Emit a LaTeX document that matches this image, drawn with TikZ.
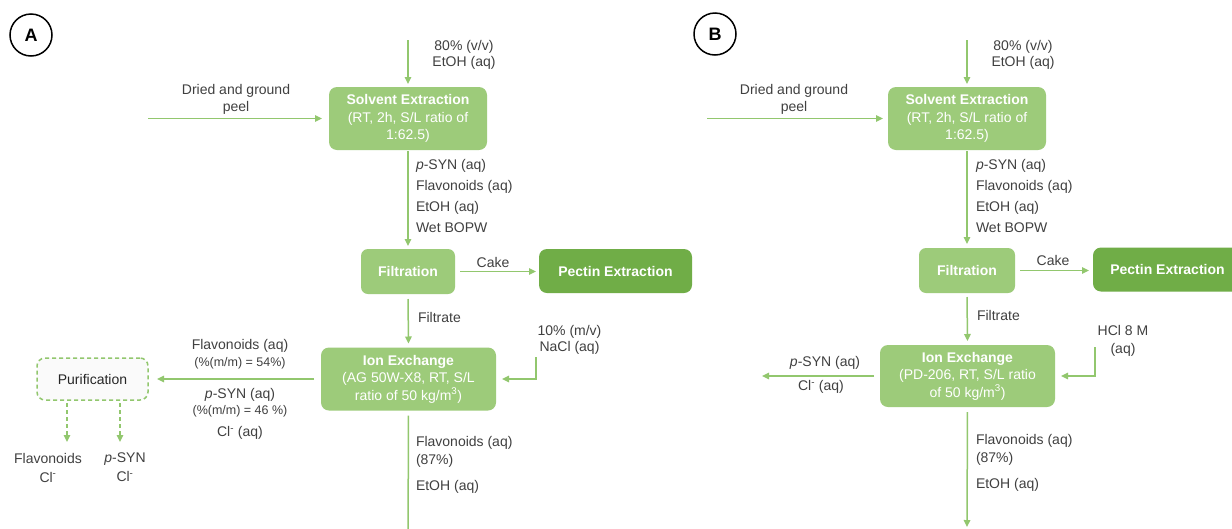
\documentclass[tikz,border=0pt]{standalone}
\usepackage{fontspec}
\setmainfont{Liberation Sans}
\usetikzlibrary{arrows.meta}
\definecolor{lgreen}{RGB}{157,203,122}
\definecolor{dgreen}{RGB}{112,173,71}
\definecolor{agreen}{RGB}{146,199,110}
\definecolor{txt}{RGB}{64,64,64}
\tikzset{
  every node/.style={inner sep=0pt, outer sep=0pt, text=txt},
  lbl/.style={font=\fontsize{14}{16}\selectfont},
  smalllbl/.style={font=\fontsize{12.5}{14}\selectfont},
  proc/.style={fill=lgreen, rounded corners=8pt, text=white, align=center,
    font=\fontsize{14}{17.5}\selectfont},
  darkproc/.style={fill=dgreen, rounded corners=8pt, text=white,
    font=\fontsize{14}{17}\selectfont\bfseries},
  flow/.style={draw=agreen, line width=1.5pt, -{Triangle[length=7pt,width=6.5pt]}},
  dflow/.style={draw=agreen, line width=1.5pt, dash pattern=on 4pt off 3pt,
    -{Triangle[length=7pt,width=6.5pt]}},
  plain/.style={draw=agreen, line width=1.5pt},
  panellabel/.style={draw=black, circle, line width=1.5pt, minimum size=42pt,
    text=black, font=\fontsize{18}{18}\selectfont\bfseries},
}
\begin{document}
\begin{tikzpicture}[x=1pt,y=-1pt]
\clip (0,0) rectangle (1232,528);
\fill[white] (0,0) rectangle (1232,528);

% ---------------- Panel A ----------------
\node[panellabel] (labA) at (31,35) {A};
\begin{scope}[name prefix=A-]
  \node[proc, minimum width=158pt, minimum height=63pt] (se) at (408,118.5)
    {\textbf{Solvent Extraction}\\(RT, 2h, S/L ratio of\\1:62.5)};
  \node[proc, minimum width=94pt, minimum height=45pt, font=\fontsize{14}{17}\selectfont\bfseries, rounded corners=7pt] (fi) at (408,271.5) {Filtration};
  \node[darkproc, minimum width=153pt, minimum height=44pt] (pe) at (615.5,271) {Pectin Extraction};
  \node[proc, minimum width=175pt, minimum height=63pt] (ie) at (408.5,379)
    {\textbf{Ion Exchange}\\(AG 50W-X8, RT, S/L\\ratio of 50 kg/m\textsuperscript{3})};
  \node[draw=agreen, line width=1.5pt, dash pattern=on 4pt off 3pt, rounded corners=8pt,
    fill=black!2, minimum width=111pt, minimum height=42pt, lbl, text=black!85] (pu) at (92.5,379) {Purification};

  \coordinate (etin) at (408,40);
  \coordinate (feed) at (148,118.5);
  \coordinate (salt) at (536,357);
  \coordinate (bot) at (408,545);
  \coordinate (d1) at (67,442);
  \coordinate (d2) at (120,442);

  \draw[flow, shorten >=3pt] (etin) -- (se.north);
  \draw[flow, shorten >=7pt] (feed) -- (se.west);
  \draw[flow, shorten <=1pt, shorten >=3pt] (se.south) -- (fi.north);
  \draw[flow, shorten <=5pt, shorten >=3pt] (fi.east) -- (fi.east -| pe.west);
  \draw[flow, shorten <=5pt, shorten >=4pt] (fi.south) -- (ie.north);
  \draw[flow, shorten >=6pt] (salt) |- (ie.east);
  \draw[flow, shorten <=7pt, shorten >=9pt] (ie.west) -- (pu.east);
  \draw[plain, shorten <=5pt] (ie.south) -- (bot);
  \draw[dflow, shorten <=3pt] (pu.south -| d1) -- (d1);
  \draw[dflow, shorten <=3pt] (pu.south -| d2) -- (d2);

  \node[lbl, align=center] (l80) at (464,55) {80\% (v/v)\\EtOH (aq)};
  \node[lbl, align=center, font=\fontsize{14}{17}\selectfont] (ldry) at (236,99.5) {Dried and ground\\peel};
  \node[lbl, align=left, anchor=west, font=\fontsize{14}{20.7}\selectfont] (lse) at (416,196)
    {\textit{p}-SYN (aq)\\Flavonoids (aq)\\EtOH (aq)\\Wet BOPW};
  \node[lbl] (lcake) at (493,262) {Cake};
  \node[lbl, anchor=west] (lfil) at (418,317) {Filtrate};
  \node[lbl, align=center] (lnacl) at (569.5,340) {10\% (m/v)\\NaCl (aq)};
  \node[lbl] (lf1) at (240,346) {Flavonoids (aq)};
  \node[smalllbl] (lf2) at (240,363) {(\%(m/m) = 54\%)};
  \node[lbl] (lp1) at (240,395) {\textit{p}-SYN (aq)};
  \node[smalllbl] (lp2) at (240,411) {(\%(m/m) = 46 \%)};
  \node[lbl] (lcl) at (240,433) {Cl\textsuperscript{-} (aq)};
  \node[lbl, align=left, anchor=west, font=\fontsize{14}{18}\selectfont] (lbot) at (416,465)
    {Flavonoids (aq)\\(87\%)\\[8pt]EtOH (aq)};
  \node[lbl, align=center, font=\fontsize{14}{19}\selectfont] (lo1) at (48,467.5) {Flavonoids\\Cl\textsuperscript{-}};
  \node[lbl, align=center, font=\fontsize{14}{19}\selectfont] (lo2) at (125,467.5) {\textit{p}-SYN\\Cl\textsuperscript{-}};
\end{scope}

% ---------------- Panel B ----------------
\node[panellabel] (labB) at (715,34) {B};
\begin{scope}[name prefix=B-, xshift=559pt]
  \node[proc, minimum width=158pt, minimum height=63pt] (se) at (408,118.5)
    {\textbf{Solvent Extraction}\\(RT, 2h, S/L ratio of\\1:62.5)};
  \node[proc, minimum width=96pt, minimum height=45pt, font=\fontsize{14}{17}\selectfont\bfseries, rounded corners=7pt] (fi) at (408,270.5) {Filtration};
  \node[darkproc, minimum width=149pt, minimum height=44pt] (pe) at (608.5,269.5) {Pectin Extraction};
  \node[proc, minimum width=175pt, minimum height=62pt] (ie) at (408.5,376)
    {\textbf{Ion Exchange}\\(PD-206, RT, S/L ratio\\of 50 kg/m\textsuperscript{3})};

  \coordinate (etin) at (408,40);
  \coordinate (feed) at (148,118.5);
  \coordinate (acid) at (536,347);
  \coordinate (out) at (203,376);
  \coordinate (bot) at (408,527);

  \draw[flow, shorten >=3pt] (etin) -- (se.north);
  \draw[flow, shorten >=5pt] (feed) -- (se.west);
  \draw[flow, shorten <=1pt, shorten >=4pt] (se.south) -- (fi.north);
  \draw[flow, shorten <=5pt, shorten >=4pt] (fi.east) -- (fi.east -| pe.west);
  \draw[flow, shorten <=4pt, shorten >=4pt] (fi.south) -- (ie.north);
  \draw[flow, shorten >=6pt] (acid) |- (ie.east);
  \draw[flow, shorten <=6pt] (ie.west) -- (out);
  \draw[flow, shorten <=5pt] (ie.south) -- (bot);

  \node[lbl, align=center] (l80) at (464,55) {80\% (v/v)\\EtOH (aq)};
  \node[lbl, align=center, font=\fontsize{14}{17}\selectfont] (ldry) at (235,99.5) {Dried and ground\\peel};
  \node[lbl, align=left, anchor=west, font=\fontsize{14}{20.7}\selectfont] (lse) at (417,196)
    {\textit{p}-SYN (aq)\\Flavonoids (aq)\\EtOH (aq)\\Wet BOPW};
  \node[lbl] (lcake) at (494,260) {Cake};
  \node[lbl, anchor=west] (lfil) at (418,315) {Filtrate};
  \node[lbl, align=center, font=\fontsize{14}{18}\selectfont] (lhcl) at (564,341) {HCl 8 M\\(aq)};
  \node[lbl] (lp1) at (266,363) {\textit{p}-SYN (aq)};
  \node[lbl] (lcl) at (262,387) {Cl\textsuperscript{-} (aq)};
  \node[lbl, align=left, anchor=west, font=\fontsize{14}{18}\selectfont] (lbot) at (417,463)
    {Flavonoids (aq)\\(87\%)\\[8pt]EtOH (aq)};
\end{scope}
\end{tikzpicture}
\end{document}
